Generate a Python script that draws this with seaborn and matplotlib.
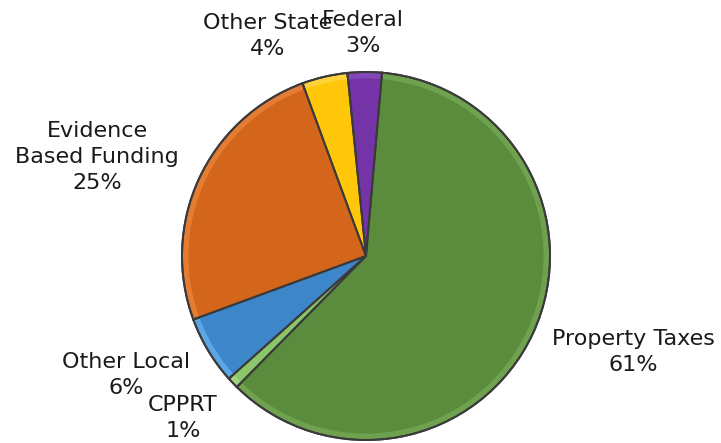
import numpy as np
import matplotlib
matplotlib.use("Agg")
import matplotlib.pyplot as plt
import seaborn as sns
from matplotlib.patches import Wedge

# ==========================================
# DATA
# ==========================================
categories = ["Property Taxes", "CPPRT", "Other Local",
              "Evidence\nBased Funding", "Other State", "Federal"]
shares = [61, 1, 6, 25, 4, 3]
pct_labels = ["61%", "1%", "6%", "25%", "4%", "3%"]

# styles
base_colors = ["#5B8C3D", "#8CC66A", "#3D86C9", "#D4661C", "#FFC60A", "#7434A8"]
rim_colors = ["#6FA24E", "#A0D480", "#5AA6E6", "#E47C34", "#FFD23A", "#8447B8"]

# label block centres in pixels
label_px = [(633, 352), (183, 418), (126, 375), (97, 157), (268, 36), (363, 33)]

# ==========================================
# GEOMETRY
# ==========================================
W, H = 721, 443
CX, CY, R = 366, 256, 184
START = 85  # degrees, clockwise


def px_to_data(px, py):
    return (px - CX) / R, (CY - py) / R


sns.set_theme(style="white")
plt.rcParams["font.family"] = ["DejaVu Sans"]

fig = plt.figure(figsize=(W / 100, H / 100), dpi=100)
ax = fig.add_axes([0, 0, 1, 1])

# base pie through matplotlib
wedges, _ = ax.pie(shares, colors=rim_colors, startangle=START,
                   counterclock=False, radius=1.0,
                   wedgeprops=dict(edgecolor="#3a3a3a", linewidth=1.4))

# inner face for a bevel look
for w, col in zip(wedges, base_colors):
    inner = Wedge((0, 0), 0.965, w.theta1, w.theta2, facecolor=col,
                  edgecolor="none", zorder=w.get_zorder() + 0.5)
    ax.add_patch(inner)
    outline = Wedge((0, 0), 1.0, w.theta1, w.theta2, facecolor="none",
                    edgecolor="#3a3a3a", linewidth=1.4,
                    zorder=w.get_zorder() + 1)
    ax.add_patch(outline)

ax.set_aspect("auto")
ax.set_xlim(-CX / R, (W - CX) / R)
ax.set_ylim((CY - H) / R, CY / R)
ax.axis("off")

# labels
for cat, pct, (lx, ly) in zip(categories, pct_labels, label_px):
    x, y = px_to_data(lx, ly)
    txt = f"{cat}\n{pct}"
    ax.text(x, y, txt, ha="center", va="center", fontsize=16,
            color="#1a1a1a", linespacing=1.35,
            transform=ax.transData)

fig.savefig("out.png", dpi=100)
